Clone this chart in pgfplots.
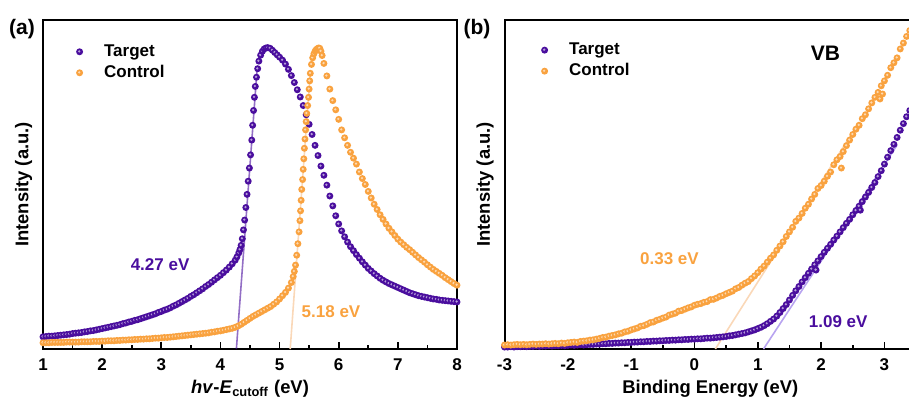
\documentclass[border=0pt]{standalone}
\usepackage{fontspec}
\setmainfont{Liberation Sans}
\usepackage{pgfplots}
\pgfplotsset{compat=1.18}
\definecolor{purp}{HTML}{4A0E9E}
\definecolor{orng}{HTML}{F9A23F}
\definecolor{peach}{HTML}{FAD8B8}
\definecolor{lav}{HTML}{B8A4F0}
\pgfdeclareplotmark{sball}{%
  \pgfpathcircle{\pgfpointorigin}{\pgfplotmarksize}\pgfusepathqfill
  \begin{pgfscope}\pgfsetfillcolor{white}\pgfsetfillopacity{0.6}%
  \pgfpathcircle{\pgfpoint{-0.12\pgfplotmarksize}{0.12\pgfplotmarksize}}{0.36\pgfplotmarksize}\pgfusepathqfill
  \end{pgfscope}}
\begin{document}
\begin{tikzpicture}
\path[use as bounding box] (0pt,0pt) rectangle (454.5pt,198.5pt);
\pgfplotsset{
  myax/.style={
    scale only axis, height=164.5pt, ymin=0, ymax=1, ytick=\empty,
    axis line style={line width=1pt},
    every tick/.style={line width=0.8pt, black},
    major tick length=3.5pt, minor tick length=2pt,
    tick align=inside, xtick pos=bottom,
    minor x tick num=1,
    /pgf/number format/assume math mode=true,
    xticklabel style={font=\fontsize{8.5}{10}\selectfont\bfseries, yshift=-1.5pt},
    label style={font=\fontsize{9.2}{11}\selectfont\bfseries},
    ylabel style={at={(axis description cs:-0.047,0.5)}, anchor=center},
    xlabel style={at={(axis description cs:0.5,-0.134)}, anchor=base},
    legend style={draw=none, fill=none, inner sep=0pt, row sep=2pt,
      nodes={inner sep=0.5pt},
      font=\fontsize{8.5}{10}\selectfont\bfseries,
      /tikz/every odd column/.append style={column sep=10pt}},
    legend cell align=left,
    legend image code/.code={\draw[##1] plot coordinates {(0pt,0pt)};},
  },
  pt/.style={only marks, mark=sball, mark size=1.75pt, color=#1, mark options={fill=#1, draw=none}},
}
% ---------------- panel (a) ----------------
\begin{axis}[myax, at={(21.5pt,24pt)}, anchor=south west, width=207pt,
  xmin=1, xmax=8, xtick={1,...,8},
  xlabel={\textit{hv}-\textit{E}\textsubscript{cutoff} (eV)},
  ylabel={Intensity (a.u.)},
  legend style={at={(axis description cs:0.079,0.93)}, anchor=north west}]
\addplot[pt=purp] coordinates {
(1.00,.037)(1.05,.038)(1.10,.039)(1.15,.039)(1.20,.040)(1.25,.041)(1.30,.042)(1.35,.043)(1.40,.044)(1.45,.045)
(1.50,.047)(1.55,.048)(1.60,.049)(1.65,.050)(1.70,.052)(1.75,.053)(1.80,.055)(1.85,.056)(1.90,.058)(1.95,.060)
(2.00,.062)(2.05,.064)(2.10,.066)(2.15,.068)(2.20,.070)(2.25,.072)(2.30,.074)(2.35,.077)(2.40,.079)(2.45,.082)
(2.50,.084)(2.55,.087)(2.60,.089)(2.65,.092)(2.70,.095)(2.75,.098)(2.80,.101)(2.85,.104)(2.90,.107)(2.95,.111)
(3.00,.114)(3.05,.118)(3.10,.121)(3.15,.125)(3.20,.130)(3.25,.134)(3.30,.139)(3.35,.144)(3.40,.149)(3.45,.154)
(3.50,.160)(3.55,.165)(3.60,.171)(3.65,.177)(3.70,.183)(3.75,.190)(3.80,.196)(3.85,.203)(3.90,.210)(3.95,.217)
(4.00,.224)(4.05,.232)(4.10,.240)(4.15,.249)(4.20,.259)(4.25,.270)(4.28,.280)(4.31,.292)(4.33,.302)(4.35,.315)
(4.37,.335)(4.39,.362)(4.41,.392)(4.43,.430)(4.45,.470)(4.47,.510)(4.49,.550)(4.51,.590)(4.53,.635)(4.545,.680)
(4.56,.725)(4.575,.765)(4.59,.798)(4.61,.826)(4.63,.852)(4.65,.875)(4.68,.893)(4.71,.905)(4.74,.912)(4.77,.915)
(4.80,.916)(4.84,.914)(4.88,.908)(4.92,.901)(4.96,.894)(5.00,.887)(5.05,.878)(5.10,.866)(5.15,.850)(5.20,.831)
(5.25,.810)(5.30,.788)(5.35,.766)(5.40,.740)(5.45,.712)(5.50,.683)(5.55,.652)(5.60,.619)(5.65,.588)(5.70,.556)
(5.75,.528)(5.80,.498)(5.85,.465)(5.90,.435)(5.95,.405)(6.00,.380)(6.05,.359)(6.10,.341)(6.15,.325)(6.20,.311)
(6.25,.299)(6.30,.287)(6.35,.276)(6.40,.265)(6.45,.255)(6.50,.245)(6.55,.237)(6.60,.229)(6.65,.222)(6.70,.215)
(6.75,.209)(6.80,.204)(6.85,.199)(6.90,.195)(6.95,.191)(7.00,.187)(7.05,.183)(7.10,.179)(7.15,.175)(7.20,.171)
(7.25,.168)(7.30,.165)(7.35,.162)(7.40,.160)(7.45,.158)(7.50,.156)(7.55,.154)(7.60,.152)(7.65,.151)(7.70,.149)
(7.75,.148)(7.80,.147)(7.85,.146)(7.90,.145)(7.95,.144)(8.00,.143)};
\addlegendentry{Target}
\addplot[pt=orng] coordinates {
(1.00,.019)(1.05,.019)(1.10,.019)(1.15,.020)(1.20,.020)(1.25,.020)(1.30,.020)(1.35,.020)(1.40,.021)(1.45,.021)
(1.50,.021)(1.55,.021)(1.60,.021)(1.65,.022)(1.70,.022)(1.75,.022)(1.80,.022)(1.85,.023)(1.90,.023)(1.95,.023)
(2.00,.024)(2.05,.024)(2.10,.025)(2.15,.025)(2.20,.025)(2.25,.026)(2.30,.026)(2.35,.027)(2.40,.027)(2.45,.028)
(2.50,.028)(2.55,.029)(2.60,.029)(2.65,.030)(2.70,.030)(2.75,.031)(2.80,.031)(2.85,.032)(2.90,.033)(2.95,.033)
(3.00,.034)(3.05,.035)(3.10,.035)(3.15,.036)(3.20,.037)(3.25,.038)(3.30,.039)(3.35,.040)(3.40,.041)(3.45,.042)
(3.50,.043)(3.55,.044)(3.60,.045)(3.65,.046)(3.70,.047)(3.75,.048)(3.80,.049)(3.85,.051)(3.90,.052)(3.95,.054)
(4.00,.055)(4.05,.057)(4.10,.059)(4.15,.061)(4.20,.063)(4.25,.066)(4.30,.070)(4.35,.075)(4.40,.081)(4.45,.087)
(4.50,.093)(4.55,.099)(4.60,.104)(4.65,.109)(4.70,.114)(4.75,.119)(4.80,.124)(4.85,.129)(4.90,.136)(4.95,.143)
(5.00,.152)(5.05,.162)(5.10,.172)(5.15,.185)(5.20,.202)(5.23,.220)(5.25,.236)(5.27,.255)(5.29,.285)(5.31,.320)
(5.33,.356)(5.345,.390)(5.355,.420)(5.365,.452)(5.375,.485)(5.39,.515)(5.40,.546)(5.41,.578)(5.42,.610)(5.43,.638)
(5.44,.666)(5.45,.691)(5.46,.716)(5.475,.740)(5.49,.765)(5.50,.790)(5.51,.815)(5.52,.838)(5.54,.865)(5.56,.885)
(5.58,.897)(5.60,.905)(5.62,.910)(5.64,.913)(5.66,.915)(5.68,.914)(5.70,.905)(5.72,.892)(5.75,.868)(5.80,.830)
(5.85,.790)(5.90,.755)(5.95,.727)(6.00,.698)(6.05,.666)(6.10,.642)(6.15,.619)(6.20,.598)(6.25,.580)(6.30,.562)
(6.35,.538)(6.40,.518)(6.45,.500)(6.50,.479)(6.55,.459)(6.60,.440)(6.65,.424)(6.70,.408)(6.75,.394)(6.80,.380)
(6.85,.367)(6.90,.356)(6.95,.345)(7.00,.334)(7.05,.325)(7.10,.317)(7.15,.309)(7.20,.302)(7.25,.294)(7.30,.286)
(7.35,.278)(7.40,.271)(7.45,.264)(7.50,.256)(7.55,.249)(7.60,.242)(7.65,.236)(7.70,.230)(7.75,.224)(7.80,.217)
(7.85,.211)(7.90,.205)(7.95,.199)(8.00,.194)};
\addlegendentry{Control}
\addplot[forget plot, purp, opacity=0.6, line width=0.8pt] coordinates {(4.27,0)(4.62,0.85)};
\addplot[forget plot, peach, line width=0.8pt] coordinates {(5.18,0)(5.52,0.84)};
\node[text=purp, font=\fontsize{8.5}{10}\selectfont\bfseries] at (axis cs:2.98,0.255) {4.27 eV};
\node[text=orng, font=\fontsize{8.5}{10}\selectfont\bfseries] at (axis cs:5.87,0.115) {5.18 eV};
\end{axis}
% ---------------- panel (b) ----------------
\begin{axis}[myax, at={(252.25pt,24pt)}, anchor=south west, width=205.8pt,
  xmin=-3, xmax=3.5, xtick={-3,...,3}, xticklabels={-3,-2,-1,0,1,2,3},
  xlabel={Binding Energy (eV)},
  ylabel={Intensity (a.u.)},
  legend style={at={(axis description cs:0.088,0.935)}, anchor=north west}]
\addplot[pt=purp] coordinates {
(-3.00,.006)(-2.95,.006)(-2.90,.007)(-2.85,.006)(-2.80,.007)(-2.75,.007)(-2.70,.008)(-2.65,.007)(-2.60,.008)(-2.55,.008)
(-2.50,.009)(-2.45,.008)(-2.40,.009)(-2.35,.009)(-2.30,.010)(-2.25,.009)(-2.20,.010)(-2.15,.010)(-2.10,.011)(-2.05,.010)
(-2.00,.011)(-1.95,.012)(-1.90,.011)(-1.85,.012)(-1.80,.013)(-1.75,.012)(-1.70,.013)(-1.65,.014)(-1.60,.014)(-1.55,.015)
(-1.50,.015)(-1.45,.016)(-1.40,.016)(-1.35,.017)(-1.30,.017)(-1.25,.018)(-1.20,.018)(-1.15,.019)(-1.10,.019)(-1.05,.020)
(-1.00,.020)(-0.95,.021)(-0.90,.021)(-0.85,.022)(-0.80,.022)(-0.75,.023)(-0.70,.023)(-0.65,.024)(-0.60,.024)(-0.55,.025)
(-0.50,.025)(-0.45,.026)(-0.40,.026)(-0.35,.027)(-0.30,.027)(-0.25,.028)(-0.20,.028)(-0.15,.029)(-0.10,.029)(-0.05,.030)
(0.00,.030)(0.05,.031)(0.10,.031)(0.15,.032)(0.20,.033)(0.25,.033)(0.30,.034)(0.35,.035)(0.40,.036)(0.45,.037)
(0.50,.038)(0.55,.040)(0.60,.041)(0.65,.043)(0.70,.045)(0.75,.047)(0.80,.049)(0.85,.052)(0.90,.055)(0.95,.058)
(1.00,.062)(1.05,.066)(1.10,.071)(1.15,.077)(1.20,.084)(1.25,.091)(1.30,.100)(1.35,.111)(1.40,.123)(1.45,.135)
(1.50,.149)(1.55,.163)(1.60,.177)(1.65,.190)(1.70,.204)(1.75,.217)(1.80,.230)(1.85,.243)(1.90,.256)(1.92,.240)
(1.95,.268)(2.00,.281)(2.05,.294)(2.10,.306)(2.15,.318)(2.20,.331)(2.25,.343)(2.30,.356)(2.35,.369)(2.40,.382)
(2.45,.394)(2.50,.408)(2.55,.421)(2.60,.434)(2.62,.422)(2.65,.448)(2.70,.462)(2.75,.476)(2.80,.491)(2.85,.506)
(2.90,.524)(2.95,.542)(3.00,.562)(3.05,.583)(3.10,.603)(3.15,.622)(3.20,.643)(3.25,.665)(3.30,.685)(3.35,.706)
(3.40,.725)(3.45,.745)};
\addlegendentry{Target}
\addplot[pt=orng] coordinates {
(-3.00,.012)(-2.95,.013)(-2.90,.012)(-2.85,.013)(-2.80,.014)(-2.75,.013)(-2.70,.014)(-2.65,.013)(-2.60,.014)(-2.55,.015)
(-2.50,.014)(-2.45,.015)(-2.40,.015)(-2.35,.016)(-2.30,.015)(-2.25,.016)(-2.20,.017)(-2.15,.016)(-2.10,.018)(-2.05,.017)
(-2.00,.019)(-1.95,.020)(-1.90,.021)(-1.85,.020)(-1.80,.023)(-1.75,.024)(-1.70,.025)(-1.65,.027)(-1.60,.028)(-1.55,.030)
(-1.50,.032)(-1.45,.035)(-1.40,.036)(-1.35,.039)(-1.30,.041)(-1.25,.043)(-1.20,.046)(-1.15,.048)(-1.10,.052)(-1.05,.054)
(-1.00,.058)(-0.95,.061)(-0.90,.064)(-0.85,.069)(-0.80,.071)(-0.75,.075)(-0.70,.080)(-0.65,.082)(-0.60,.087)(-0.55,.090)
(-0.50,.094)(-0.45,.097)(-0.40,.103)(-0.35,.106)(-0.30,.109)(-0.25,.115)(-0.20,.117)(-0.15,.121)(-0.10,.125)(-0.05,.128)
(0.00,.133)(0.05,.136)(0.10,.138)(0.15,.142)(0.20,.144)(0.25,.150)(0.30,.151)(0.35,.155)(0.40,.160)(0.45,.163)
(0.50,.168)(0.55,.172)(0.60,.176)(0.65,.183)(0.70,.187)(0.75,.194)(0.80,.200)(0.85,.205)(0.90,.214)(0.95,.222)
(1.00,.232)(1.05,.243)(1.10,.252)(1.15,.264)(1.20,.276)(1.25,.286)(1.30,.300)(1.35,.313)(1.40,.326)(1.45,.342)
(1.50,.356)(1.55,.370)(1.60,.388)(1.65,.398)(1.70,.412)(1.75,.428)(1.80,.440)(1.85,.456)(1.90,.470)(1.95,.488)
(2.00,.497)(2.05,.510)(2.10,.525)(2.15,.538)(2.20,.560)(2.25,.575)(2.30,.585)(2.32,.550)(2.35,.600)(2.40,.618)
(2.45,.635)(2.50,.652)(2.55,.668)(2.60,.680)(2.65,.700)(2.70,.712)(2.75,.730)(2.80,.748)(2.85,.765)(2.90,.780)
(2.93,.760)(2.95,.800)(2.97,.775)(3.00,.815)(3.05,.832)(3.10,.855)(3.15,.870)(3.20,.885)(3.25,.912)(3.30,.930)
(3.35,.950)(3.40,.968)(3.45,.985)};
\addlegendentry{Control}
\addplot[forget plot, peach, line width=0.8pt] coordinates {(0.33,0)(2.6,0.69)};
\addplot[forget plot, lav, line width=0.8pt] coordinates {(1.09,0)(3.2,0.62)};
\node[text=orng, font=\fontsize{8.5}{10}\selectfont\bfseries] at (axis cs:-0.395,0.274) {0.33 eV};
\node[text=purp, font=\fontsize{8.5}{10}\selectfont\bfseries] at (axis cs:2.27,0.082) {1.09 eV};
\node[font=\fontsize{10.5}{12}\selectfont\bfseries] at (axis cs:2.07,0.90) {VB};
\end{axis}
\node[font=\fontsize{10.5}{12}\selectfont\bfseries] at (11pt,184pt) {(a)};
\node[font=\fontsize{10.5}{12}\selectfont\bfseries] at (238.5pt,184pt) {(b)};
\end{tikzpicture}
\end{document}
